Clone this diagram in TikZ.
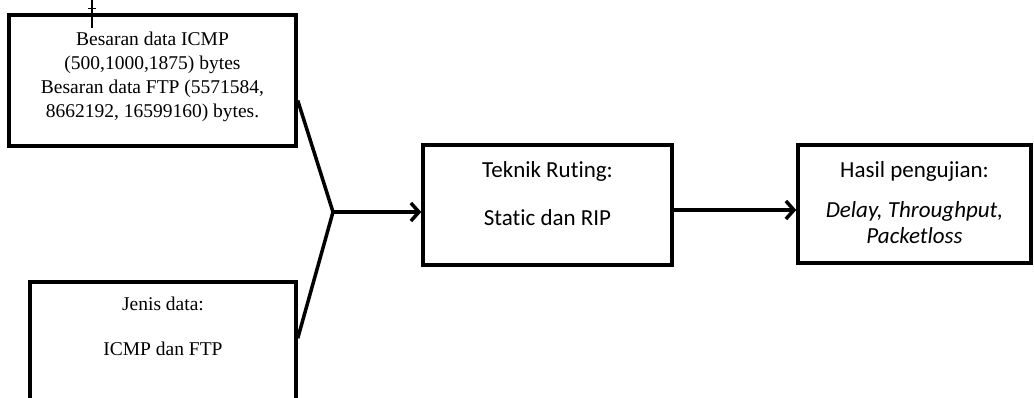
\documentclass[tikz,border=0pt]{standalone}
\usepackage{fontspec}
\setmainfont{Liberation Serif}
\newfontfamily\calibri[Ligatures=NoCommon]{Carlito}
\usepackage{tikz}
\usetikzlibrary{arrows.meta,positioning,calc}
\tikzset{
    box/.style={rectangle, draw, line width=3.5pt, inner sep=0},
    serif/.style={align=center, inner sep=0, font=\fontsize{19.5}{24}\selectfont},
    sans/.style={align=center, inner sep=0, font=\calibri\fontsize{23}{26}\selectfont},
    link/.style={line width=3.5pt},
    flow/.style={-{Straight Barb[length=8pt, width=18pt]}, line width=3.5pt},
}

\begin{document}
\begin{tikzpicture}[x=1pt, y=-1pt, node distance=16pt]
    \clip (0,0) rectangle (1034,397);
    \node[box, minimum width=287pt, minimum height=131pt] (ukuran) at (152.5,80.5) {};
    \node[box, minimum width=266pt, minimum height=138pt] (jenis) at (163,351) {};
    \node[box, minimum width=249pt, minimum height=120pt] (ruting) at (547.5,205) {};
    \node[box, minimum width=233pt, minimum height=118pt] (hasil) at (914.5,204) {};

    \node[serif, below=19pt of ukuran.north] (ukurantxt) {Besaran data ICMP\\(500,1000,1875) bytes\\Besaran data FTP (5571584,\\8662192, 16599160) bytes.};
    \node[serif, below=17pt of jenis.north] (jenistxt) {Jenis data:\\[21pt]ICMP dan FTP};
    \node[sans, below=18pt of ruting.north] (rutingtxt) {Teknik Ruting:\\[22pt]Static dan RIP};
    \node[sans, below=18pt of hasil.north] (hasiltxt) {Hasil pengujian:\\[14pt]\textit{Delay, Throughput,}\\\textit{Packetloss}};

    \coordinate (gabung) at (333,212);
    \draw[link] ([yshift=-20pt]ukuran.east) -- (gabung);
    \draw[link] ([yshift=-58pt]jenis.north east) -- (gabung);
    \draw[flow] (gabung) -- (gabung -| ruting.west);
    \draw[flow] ([yshift=-5pt]ruting.east) -- ([yshift=-5pt]ruting.east -| hasil.west);

    % cursor
    \draw[line width=1.5pt] (92,0) -- (92,28);
    \draw[line width=1pt] (88,8) -- (96,8);
\end{tikzpicture}
\end{document}
